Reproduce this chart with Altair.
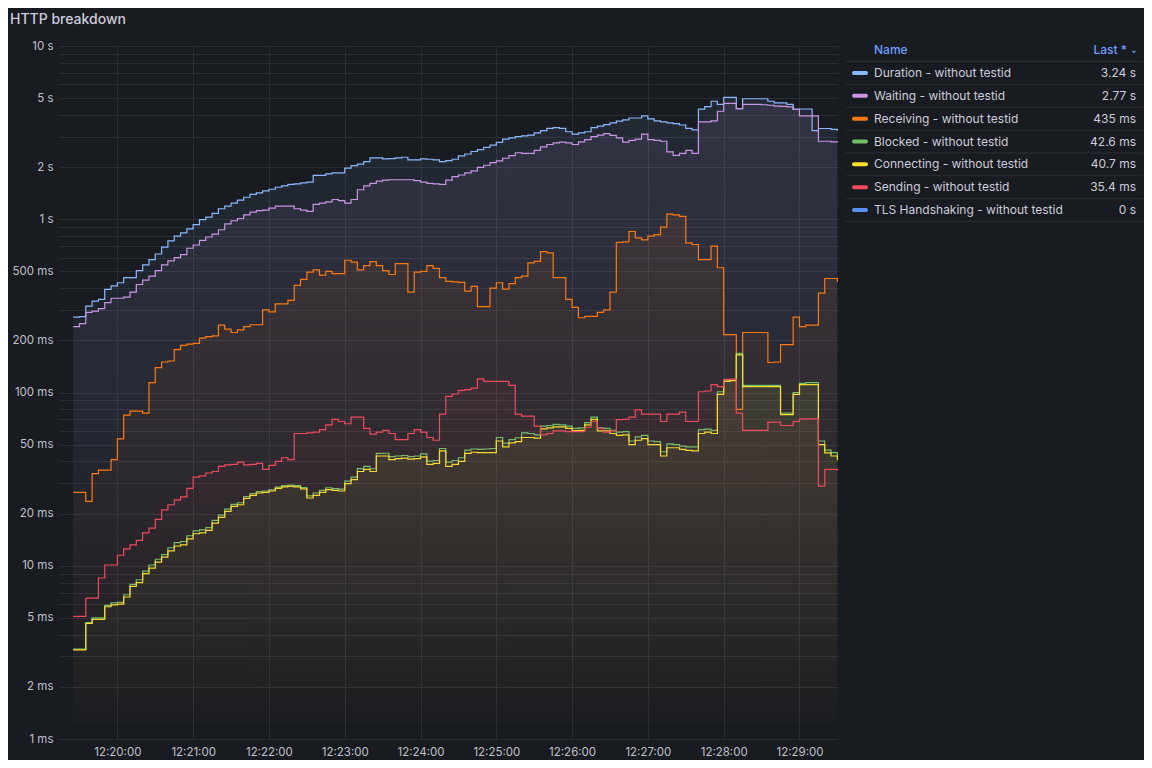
import math
import altair as alt
import pandas as pd

# ---------------- data (ms), one sample every 5 s starting at 12:19:25 ----------------
STEP_S = 5  # seconds between samples; t = 0 is 12:19:25

duration = [
    272, 274, 315, 337, 345, 394, 412, 430, 460, 460,
    505, 545, 585, 630, 690, 750, 800, 835, 880, 930,
    995, 1030, 1080, 1150, 1190, 1240, 1290, 1340, 1390, 1420,
    1460, 1490, 1530, 1560, 1590, 1600, 1620, 1640, 1790, 1790,
    1830, 1850, 1850, 1975, 2040, 2080, 2150, 2260, 2260, 2230,
    2240, 2260, 2280, 2200, 2200, 2230, 2220, 2200, 2150, 2180,
    2220, 2320, 2380, 2460, 2520, 2600, 2680, 2780, 2900, 2950,
    3000, 3030, 3060, 3150, 3250, 3350, 3380, 3350, 3200, 3100,
    3150, 3200, 3380, 3450, 3520, 3600, 3680, 3750, 3840, 3840,
    3950, 3800, 3700, 3650, 3600, 3560, 3500, 3350, 3280, 4320,
    4470, 4800, 4600, 5050, 5050, 4350, 4960, 4960, 4960, 4960,
    4800, 4700, 4700, 4600, 4330, 4330, 4330, 3250, 3340, 3340,
    3300, 3240,
]
waiting = [
    240, 250, 290, 295, 305, 330, 350, 350, 355, 380,
    420, 445, 470, 505, 545, 575, 600, 625, 680, 710,
    755, 790, 820, 870, 940, 980, 1010, 1060, 1100, 1120,
    1130, 1160, 1190, 1190, 1190, 1150, 1130, 1110, 1220, 1240,
    1260, 1300, 1280, 1240, 1300, 1480, 1560, 1610, 1660, 1680,
    1690, 1690, 1690, 1690, 1670, 1640, 1610, 1600, 1590, 1680,
    1760, 1800, 1850, 1900, 1990, 2050, 2120, 2170, 2250, 2330,
    2420, 2400, 2400, 2500, 2620, 2700, 2760, 2790, 2760, 2700,
    2800, 2880, 3000, 3060, 3120, 3050, 2950, 2790, 2850, 2900,
    3100, 2880, 2850, 2820, 2450, 2340, 2400, 2500, 2400, 3650,
    3650, 3700, 4200, 4660, 4660, 4350, 4600, 4600, 4600, 4580,
    4550, 4500, 4480, 4450, 4300, 3950, 3950, 3950, 2820, 2820,
    2800, 2770,
]
receiving = [
    26.5, 26.5, 23.5, 34, 35.6, 35.6, 41, 54, 74, 78,
    78, 76, 114, 139, 150, 152, 177, 187, 190, 192,
    206, 210, 212, 245, 232, 222, 230, 240, 246, 246,
    300, 292, 325, 325, 340, 415, 450, 495, 510, 476,
    500, 485, 485, 580, 565, 510, 540, 570, 540, 505,
    480, 555, 555, 380, 495, 500, 540, 520, 460, 438,
    435, 432, 385, 410, 313, 313, 400, 430, 395, 425,
    460, 470, 560, 572, 650, 640, 460, 460, 345, 310,
    270, 275, 275, 290, 300, 380, 735, 740, 850, 780,
    760, 800, 815, 900, 1070, 1060, 1040, 730, 715, 585,
    585, 700, 525, 216, 216, 80, 222, 222, 222, 222,
    149, 150, 189, 189, 272, 240, 245, 245, 375, 455,
    455, 435,
]
blocked = [
    3.3, 3.3, 4.7, 5.0, 5.0, 5.9, 6.1, 6.15, 6.8, 7.8,
    8.3, 9.3, 10.1, 10.9, 11.6, 12.7, 13.6, 13.8, 14.9, 15.9,
    16.1, 16.6, 18.3, 19.6, 21.2, 22.6, 23.1, 25.1, 26.1, 26.8,
    27.0, 27.4, 28.4, 29.0, 29.2, 29.0, 28.3, 25.3, 26.3, 27.2,
    28.2, 27.9, 27.7, 30.8, 32.5, 36.4, 37.5, 36.3, 44.5, 44.6,
    42.6, 43.0, 43.3, 42.6, 43.0, 44.2, 40.2, 40.5, 47.5, 39.6,
    40.5, 42.0, 46.5, 47.2, 47.0, 47.2, 47.5, 55.0, 51.0, 53.5,
    54.8, 58.5, 58.0, 57.0, 64.0, 64.5, 65.5, 65.0, 64.0, 62.0,
    62.5, 67.0, 72.0, 62.5, 62.0, 60.5, 59.0, 59.5, 52.5, 55.5,
    56.5, 52.5, 52.0, 45.5, 50.5, 50.0, 49.0, 48.5, 48.5, 61.0,
    61.5, 60.5, 101, 118, 119, 168, 110, 110, 110, 110,
    110, 110, 76, 76, 100, 113, 114, 114, 52.5, 46.5,
    45.0, 42.6,
]
connecting = [
    3.27, 3.27, 4.65, 4.9, 4.9, 5.8, 5.95, 6.0, 6.6, 7.6,
    8.0, 9.0, 9.7, 10.5, 11.2, 12.2, 13, 13.2, 14.3, 15.3,
    15.5, 16, 17.6, 19, 20.6, 22, 22.5, 24.5, 25.5, 26.3,
    26.5, 27, 28, 28.5, 28.7, 28.5, 27.8, 24.6, 25.5, 26.5,
    27.5, 27.2, 27, 29.8, 31.4, 35, 36, 35, 43, 43,
    41, 41.5, 41.8, 41.2, 41.5, 42.5, 38.5, 39, 46, 37.5,
    38.5, 40, 44.5, 45.2, 45, 45, 45, 52.5, 48.6, 51.2,
    52, 55, 55, 54.5, 61.6, 62.5, 63.4, 63.4, 62, 60.2,
    60.5, 65, 70, 60, 60, 58, 56.5, 57, 50, 53,
    54.2, 50, 50, 43, 48, 48, 47, 46.3, 46, 58,
    59, 58, 97.5, 116, 117, 165, 108, 108, 108, 108,
    108, 108, 74.6, 74.6, 97.5, 111, 111, 111, 50, 44.8,
    43, 40.7,
]
sending = [
    5.1, 5.1, 6.5, 6.5, 8.5, 10.1, 10.1, 11.5, 12.5, 13.2,
    14, 15.5, 16.5, 18.5, 21, 22.5, 24, 25, 28, 32.5,
    33, 34.3, 35, 37.5, 38.2, 38.5, 39.6, 38.2, 38.5, 39,
    36, 38, 40, 42, 41, 58, 58, 58.5, 59, 61,
    65, 70, 68, 66, 72, 72, 62, 57.5, 59, 60.5,
    58, 53.5, 53.5, 58, 61, 59, 55, 53, 75, 95,
    98, 103, 104, 106, 120, 116, 116, 116, 116, 110,
    75, 73, 73, 64, 57, 58, 60, 60, 59.4, 59.4,
    59.4, 63, 68, 62, 59, 60, 69.8, 70, 72, 79.3,
    75, 75, 75, 68, 75, 75, 77, 68, 68, 101,
    102, 111, 108, 119, 119, 76, 60.5, 60.5, 60.5, 60.5,
    67.5, 67.5, 64.5, 64.5, 68, 70.5, 70.5, 70.5, 28.8, 36,
    36, 35.4,
]

series_names = [
    "Duration - without testid",
    "Waiting - without testid",
    "Receiving - without testid",
    "Blocked - without testid",
    "Connecting - without testid",
    "Sending - without testid",
    "TLS Handshaking - without testid",
]
series_colors = ["#8ab8ff", "#ca95e5", "#ff780a", "#73bf69", "#fade2a", "#f2495c", "#5794f2"]
last_labels = ["3.24 s", "2.77 s", "435 ms", "42.6 ms", "40.7 ms", "35.4 ms", "0 s"]
series_values = [duration, waiting, receiving, blocked, connecting, sending]  # TLS = 0 s (not drawable on log)

# x axis: seconds after 12:19:25; one tick per minute
x_domain = [-12, 605.5]              # 12:19:13 .. 12:29:30.5
x_tick_values = [35, 95, 155, 215, 275, 335, 395, 455, 515, 575]
x_tick_labels = ["12:20:00", "12:21:00", "12:22:00", "12:23:00", "12:24:00",
                 "12:25:00", "12:26:00", "12:27:00", "12:28:00", "12:29:00"]

y_label_values = [1, 2, 5, 10, 20, 50, 100, 200, 500, 1000, 2000, 5000, 10000]
y_grid_values = [m * 10 ** e for e in range(4) for m in range(1, 10)] + [10000]

# ---------------- build tables ----------------
rows = []
for name, vals in zip(series_names, series_values):
    for i, v in enumerate(vals):
        rows.append({"t": i * STEP_S, "series": name, "value": v})
df = pd.DataFrame(rows)

legend_df = pd.DataFrame({
    "row": list(range(1, len(series_names) + 1)),
    "label": series_names,
    "last": last_labels,
    "color": series_colors,
})
sep_df = pd.DataFrame({"sep": [r + 0.5 for r in range(0, len(series_names) + 1)]})
head_df = pd.DataFrame({"row": [0], "name": ["Name"], "last": ["Last *"], "chev": ["\u2304"]})

BG = "#181b1f"
GRID = "#2a2d33"
TEXT = "#ccccdc"
AXTEXT = "#c0c0ca"
FONT = "Inter"


def rgba(hexc, a):
    h = hexc.lstrip("#")
    r, g, b = int(h[0:2], 16), int(h[2:4], 16), int(h[4:6], 16)
    return f"rgba({r},{g},{b},{a:.3f})"


x_label_expr = "[" + ",".join(f"'{s}'" for s in x_tick_labels) + "][round((datum.value - 35) / 60)]"

x_enc = alt.X(
    "t:Q",
    scale=alt.Scale(domain=x_domain, nice=False, zero=False),
    axis=alt.Axis(
        title=None, values=x_tick_values, labelExpr=x_label_expr,
        grid=True, gridColor=GRID, gridWidth=1, domain=False, ticks=False,
        labelColor=AXTEXT, labelFont=FONT, labelFontSize=11.5, labelPadding=7,
        labelFlush=False, labelOverlap=False,
    ),
)
y_enc = alt.Y(
    "value:Q",
    scale=alt.Scale(type="log", domain=[1, 10000], nice=False),
    axis=alt.Axis(
        title=None, values=y_grid_values,
        labelExpr=("indexof(" + str(y_label_values) + ", datum.value) >= 0 ? "
                   "(datum.value >= 1000 ? (datum.value / 1000) + ' s' : datum.value + ' ms') : ''"),
        grid=True, gridColor=GRID, gridWidth=1, domain=False, ticks=False,
        labelColor=AXTEXT, labelFont=FONT, labelFontSize=11.5, labelPadding=5,
        labelOverlap=False,
    ),
)

A_TOP = 0.10
main_layers = []
for i, (name, vals) in enumerate(zip(series_names, series_values)):
    c = series_colors[i]
    top_alpha = A_TOP * math.log10(max(vals)) / 4.0
    base = alt.Chart(df).transform_filter(alt.datum.series == name)
    area = base.mark_area(
        interpolate="step-after",
        color=alt.Gradient(
            gradient="linear",
            stops=[alt.GradientStop(color=rgba(c, top_alpha), offset=0),
                   alt.GradientStop(color=rgba(c, 0.0), offset=1)],
            x1=0, x2=0, y1=0, y2=1,
        ),
    ).encode(x=x_enc if i == 0 else alt.X("t:Q"),
             y=y_enc if i == 0 else alt.Y("value:Q"),
             y2=alt.datum(1))
    line = base.mark_line(interpolate="step-after", color=c, strokeWidth=1.2).encode(
        x=alt.X("t:Q"), y=alt.Y("value:Q"))
    main_layers += [area, line]

main = alt.layer(*main_layers)

# ---------------- legend table (right side) ----------------
leg_y = alt.Scale(domain=[1, 7], range=[27, 164])
seps = alt.Chart(sep_df).mark_rule(color="#2c2f36", strokeWidth=1).encode(
    y=alt.Y("sep:Q", scale=leg_y, axis=None), x=alt.value(788), x2=alt.value(1085))
swatch = alt.Chart(legend_df).mark_rule(strokeWidth=4, strokeCap="round").encode(
    y=alt.Y("row:Q", scale=leg_y, axis=None), x=alt.value(796), x2=alt.value(808),
    color=alt.Color("color:N", scale=None, legend=None))
names = alt.Chart(legend_df).mark_text(align="left", baseline="middle", font=FONT,
                                       fontSize=12, color=TEXT).encode(
    y=alt.Y("row:Q", scale=leg_y, axis=None), x=alt.value(816), text="label:N")
lasts = alt.Chart(legend_df).mark_text(align="right", baseline="middle", font=FONT,
                                       fontSize=12, color=TEXT).encode(
    y=alt.Y("row:Q", scale=leg_y, axis=None), x=alt.value(1078), text="last:N")
head_name = alt.Chart(head_df).mark_text(align="left", baseline="middle", font=FONT,
                                         fontSize=12, fontWeight=500, color="#6e9fff").encode(
    y=alt.Y("row:Q", scale=leg_y, axis=None), x=alt.value(816), text="name:N")
head_last = alt.Chart(head_df).mark_text(align="right", baseline="middle", font=FONT,
                                         fontSize=12, fontWeight=500, color="#6e9fff").encode(
    y=alt.Y("row:Q", scale=leg_y, axis=None), x=alt.value(1069), text="last:N")
head_chev = alt.Chart(head_df).mark_text(align="center", baseline="middle", font="DejaVu Sans",
                                         fontSize=10, color="#6e9fff").encode(
    y=alt.Y("row:Q", scale=leg_y, axis=None), x=alt.value(1076), text="chev:N")

legend = alt.layer(seps, swatch, names, lasts, head_name, head_last, head_chev)

chart = alt.layer(main, legend).resolve_scale(y="independent").properties(
    width=780,
    height=693,
    padding={"left": 50, "top": 38, "right": 306, "bottom": 21},
    autosize=alt.AutoSizeParams(type="none"),
    background=BG,
    title=alt.Title("HTTP breakdown", anchor="start", frame="group", dx=-48, offset=13,
                    font=FONT, fontSize=14, fontWeight=500, color=TEXT),
).configure(font=FONT).configure_view(strokeWidth=0)

chart.save("out.html", embed_options={"renderer": "svg", "actions": False})
